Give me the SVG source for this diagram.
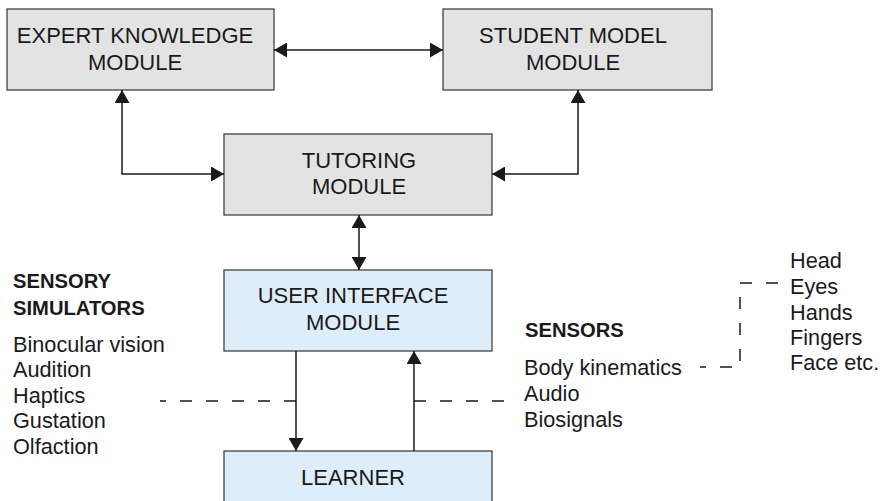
<svg xmlns="http://www.w3.org/2000/svg" width="883" height="501" viewBox="0 0 883 501">
  <style>
    .gray { fill: #e3e3e3; stroke: #333333; stroke-width: 1.2; }
    .blue { fill: #deedfa; stroke: #333333; stroke-width: 1.2; }
    .box { font-family: "Liberation Sans", Arial, sans-serif; font-size: 22px; fill: #1a1a1a; text-anchor: middle; }
    .txt { font-family: "Liberation Sans", Arial, sans-serif; font-size: 21.7px; fill: #1a1a1a; }
    .hd { font-family: "Liberation Sans", Arial, sans-serif; font-size: 20.2px; font-weight: bold; fill: #1a1a1a; }
    .conn { fill: none; stroke: #1a1a1a; stroke-width: 1.5; }
    .dash { fill: none; stroke: #1a1a1a; stroke-width: 1.5; stroke-dasharray: 12 14; }
  </style>
  <defs>
    <marker id="arr" markerUnits="userSpaceOnUse" markerWidth="14" markerHeight="15" refX="13" refY="7.5" orient="auto-start-reverse">
      <path d="M0,0 L13,7.5 L0,15 Z" fill="#1a1a1a"/>
    </marker>
  </defs>

  <g id="expert">
    <rect class="gray" x="7" y="9" width="267" height="81"/>
    <text class="box" x="135" y="43">EXPERT KNOWLEDGE</text>
    <text class="box" x="135" y="70">MODULE</text>
  </g>
  <g id="student">
    <rect class="gray" x="443" y="9" width="269" height="81"/>
    <text class="box" x="573" y="43">STUDENT MODEL</text>
    <text class="box" x="573" y="70">MODULE</text>
  </g>
  <g id="tutoring">
    <rect class="gray" x="224" y="134" width="268" height="81"/>
    <text class="box" x="359" y="168">TUTORING</text>
    <text class="box" x="359" y="194">MODULE</text>
  </g>
  <g id="ui">
    <rect class="blue" x="224" y="270" width="268" height="81"/>
    <text class="box" x="353" y="303">USER INTERFACE</text>
    <text class="box" x="353" y="330">MODULE</text>
  </g>
  <g id="learner">
    <rect class="blue" x="224" y="451" width="268" height="60"/>
    <text class="box" x="353" y="485">LEARNER</text>
  </g>

  <g id="connectors">
    <line class="conn" x1="274" y1="50" x2="443" y2="50" marker-start="url(#arr)" marker-end="url(#arr)"/>
    <path class="conn" d="M122,90 V174 H224" marker-start="url(#arr)" marker-end="url(#arr)"/>
    <path class="conn" d="M578,90 V174 H492" marker-start="url(#arr)" marker-end="url(#arr)"/>
    <line class="conn" x1="359" y1="215" x2="359" y2="270" marker-start="url(#arr)" marker-end="url(#arr)"/>
    <line class="conn" x1="296" y1="351" x2="296" y2="451" marker-end="url(#arr)"/>
    <line class="conn" x1="414" y1="451" x2="414" y2="351" marker-end="url(#arr)"/>
    <line class="dash" x1="296" y1="401" x2="160" y2="401"/>
    <line class="dash" x1="414" y1="401" x2="511" y2="401"/>
    <path class="dash" d="M778,283 H740 V367 H700"/>
  </g>

  <g id="sensory-simulators">
    <text class="hd" x="13" y="288">SENSORY</text>
    <text class="hd" x="13" y="315">SIMULATORS</text>
    <text class="txt" x="13" y="352">Binocular vision</text>
    <text class="txt" x="13" y="377">Audition</text>
    <text class="txt" x="13" y="403">Haptics</text>
    <text class="txt" x="13" y="428">Gustation</text>
    <text class="txt" x="13" y="454">Olfaction</text>
  </g>
  <g id="sensors">
    <text class="hd" x="525" y="337">SENSORS</text>
    <text class="txt" x="524" y="375">Body kinematics</text>
    <text class="txt" x="524" y="401">Audio</text>
    <text class="txt" x="524" y="427">Biosignals</text>
  </g>
  <g id="body-parts">
    <text class="txt" x="790" y="268">Head</text>
    <text class="txt" x="790" y="294">Eyes</text>
    <text class="txt" x="790" y="320">Hands</text>
    <text class="txt" x="790" y="345">Fingers</text>
    <text class="txt" x="790" y="370">Face etc.</text>
  </g>
</svg>
